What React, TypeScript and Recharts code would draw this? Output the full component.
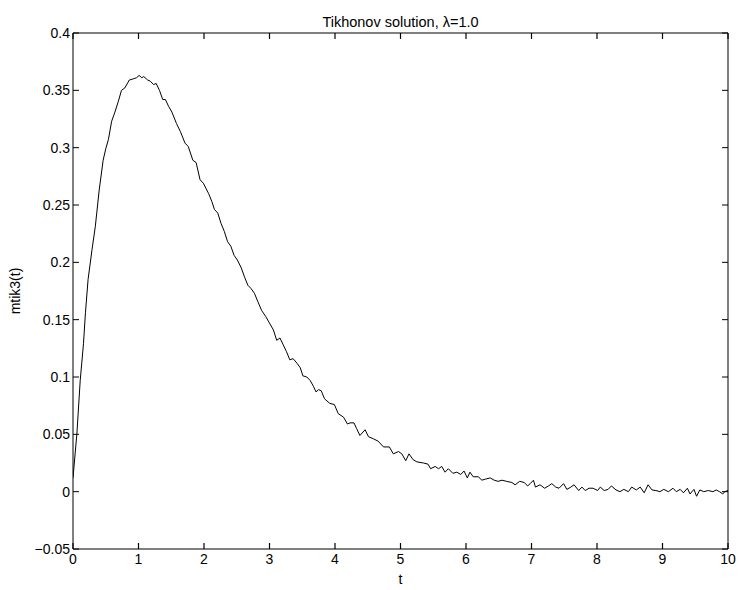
import React from 'react';
import { LineChart, Line, XAxis, YAxis, ReferenceLine } from 'recharts';

// t values
const tValues = [
  0, 0.06, 0.11, 0.16, 0.19, 0.23, 0.29, 0.34, 0.4, 0.46, 0.5, 0.54, 0.59, 0.64, 0.69, 0.74, 0.79, 0.86, 0.92, 0.97,
  1.01, 1.05, 1.08, 1.14, 1.18, 1.23, 1.27, 1.32, 1.37, 1.41, 1.46, 1.51, 1.58, 1.64, 1.71, 1.76, 1.83, 1.88, 1.94, 1.99,
  2.07, 2.12, 2.16, 2.21, 2.26, 2.31, 2.36, 2.41, 2.46, 2.51, 2.57, 2.62, 2.67, 2.72, 2.77, 2.82, 2.88, 2.94, 2.99,
  3.06, 3.11, 3.16, 3.21, 3.26, 3.31, 3.36, 3.42, 3.47, 3.51, 3.57, 3.62, 3.67, 3.71, 3.75, 3.79, 3.84, 3.92, 3.99,
  4.05, 4.13, 4.19, 4.23, 4.29, 4.33, 4.38, 4.46, 4.51, 4.59, 4.66, 4.74, 4.83, 4.89, 4.97,
  5.02, 5.08, 5.13, 5.19, 5.25, 5.35, 5.42, 5.46, 5.53, 5.58, 5.63, 5.68, 5.73, 5.8, 5.86, 5.92, 5.97,
  6.02, 6.06, 6.11, 6.19, 6.24, 6.3, 6.37, 6.43, 6.49, 6.55, 6.62, 6.7, 6.75, 6.82, 6.89, 6.94, 6.98,
  7.03, 7.06, 7.13, 7.2, 7.26, 7.31, 7.37, 7.42, 7.49, 7.54, 7.6, 7.65, 7.72, 7.77, 7.82, 7.88, 7.94,
  8.01, 8.05, 8.11, 8.17, 8.22, 8.29, 8.35, 8.41, 8.48, 8.53, 8.6, 8.66, 8.72, 8.78, 8.84, 8.9, 8.96,
  9.02, 9.09, 9.16, 9.21, 9.27, 9.32, 9.38, 9.42, 9.48, 9.52, 9.57, 9.63, 9.7, 9.77, 9.82, 9.87, 9.92, 9.95, 10,
];

// mtik3(t) values
const mtikValues = [
  0.012, 0.051, 0.097, 0.129, 0.156, 0.185, 0.211, 0.231, 0.263, 0.289, 0.299, 0.307, 0.323, 0.331, 0.34, 0.35, 0.352, 0.359, 0.36, 0.361,
  0.363, 0.361, 0.362, 0.359, 0.358, 0.355, 0.356, 0.35, 0.342, 0.342, 0.336, 0.331, 0.321, 0.314, 0.304, 0.301, 0.289, 0.287, 0.272, 0.269,
  0.26, 0.253, 0.246, 0.243, 0.234, 0.227, 0.218, 0.214, 0.206, 0.202, 0.195, 0.187, 0.18, 0.177, 0.173, 0.166, 0.158, 0.153, 0.148,
  0.141, 0.132, 0.134, 0.128, 0.122, 0.115, 0.116, 0.112, 0.108, 0.101, 0.1, 0.097, 0.092, 0.087, 0.089, 0.088, 0.081, 0.077, 0.076,
  0.068, 0.065, 0.059, 0.06, 0.06, 0.055, 0.049, 0.054, 0.048, 0.046, 0.044, 0.039, 0.039, 0.033, 0.035,
  0.033, 0.027, 0.033, 0.028, 0.026, 0.025, 0.024, 0.02, 0.022, 0.02, 0.022, 0.017, 0.02, 0.016, 0.017, 0.015, 0.018,
  0.012, 0.017, 0.013, 0.013, 0.01, 0.011, 0.012, 0.01, 0.009, 0.01, 0.009, 0.008, 0.006, 0.009, 0.008, 0.005, 0.007,
  0.01, 0.004, 0.006, 0.003, 0.005, 0.007, 0.004, 0.003, 0.007, 0.002, 0.004, 0.006, 0.001, 0.004, 0.001, 0.003, 0.003,
  0.001, 0.004, 0.001, 0.002, 0.005, 0.0015, 0, 0.002, 0, 0.004, 0.0015, 0.004, -0.001, 0.006, 0.0015, 0.001, 0,
  0.002, 0, 0.003, 0, 0.002, -0.001, 0.003, -0.002, 0.002, -0.004, 0.0015, 0, 0.001, 0, 0.0015, 0, -0.002, 0, 0.001,
];

const xTicks = [0, 1, 2, 3, 4, 5, 6, 7, 8, 9, 10];
const yTicks = [-0.05, 0, 0.05, 0.1, 0.15, 0.2, 0.25, 0.3, 0.35, 0.4];

const data = tValues.map((t, i) => ({ t, v: mtikValues[i] }));

const FONT = '"Liberation Sans", Arial, sans-serif';
const font = { fontFamily: FONT, fontSize: 14, fill: '#000' };
const TICK = 6;
const TICK_Y = 0.0052; // ~6px in y units
const GAP_Y = 3;
const GAP_X = 4;
const Y_MIN = -0.05;
const Y_MAX = 0.4;

const fmtY = (v: number) => String(v).replace('-', '\u2212');

// inward tick marks, matlab style
const BottomTick = (p: any) => (
  <g>
    <line x1={p.x} x2={p.x} y1={p.y - GAP_X} y2={p.y - GAP_X - TICK} stroke="#000" strokeWidth={1.2} />
    <text x={p.x} y={p.y} dy={11} textAnchor="middle" fontFamily={FONT} fontSize={14} fill="#000">
      {p.payload.value}
    </text>
  </g>
);

const LeftTick = (p: any) => (
  <g>
    <line x1={p.x + GAP_Y} x2={p.x + GAP_Y + TICK} y1={p.y} y2={p.y} stroke="#000" />
    <text x={p.x} y={p.y} dy={5} textAnchor="end" fontFamily={FONT} fontSize={14} fill="#000">
      {fmtY(p.payload.value)}
    </text>
  </g>
);

const RightTick = (p: any) => <line x1={p.x} x2={p.x - TICK} y1={p.y} y2={p.y} stroke="#000" />;

export default function App() {
  return (
    <div style={{ position: 'absolute', left: 0, top: 0, background: '#fff' }}>
      <LineChart width={739} height={590} data={data} margin={{ top: 32, right: 10, left: 0, bottom: 0 }}>
        <XAxis
          dataKey="t"
          type="number"
          domain={[0, 10]}
          ticks={xTicks}
          allowDataOverflow
          height={41}
          stroke="#000"
          tickLine={false}
          tickSize={0}
          tickMargin={GAP_X}
          tick={BottomTick}
          interval={0}
          label={{ value: 't', position: 'insideBottom', offset: 6, style: font }}
        />
        <XAxis
          xAxisId="top"
          orientation="top"
          dataKey="t"
          type="number"
          domain={[0, 10]}
          ticks={xTicks}
          allowDataOverflow
          height={1}
          stroke="#000"
          tickLine={false}
          tick={false}
          label={{ value: 'Tikhonov solution, \u03bb=1.0', position: 'top', offset: 5, style: { ...font, fontSize: 14.5 } }}
        />
        <YAxis
          type="number"
          domain={[Y_MIN, Y_MAX]}
          ticks={yTicks}
          allowDataOverflow
          width={73}
          stroke="#000"
          tickLine={false}
          tickSize={0}
          tickMargin={GAP_Y}
          tick={LeftTick}
          interval={0}
          label={{ value: 'mtik3(t)', angle: -90, position: 'center', dx: -21, style: { ...font, textAnchor: 'middle' } }}
        />
        <YAxis
          yAxisId="right"
          orientation="right"
          type="number"
          domain={[Y_MIN, Y_MAX]}
          ticks={yTicks}
          allowDataOverflow
          width={1}
          stroke="#000"
          tickLine={false}
          tickSize={0}
          tickMargin={0}
          tick={RightTick}
          interval={0}
        />
        {/* x-Ticks oben nach innen */}
        {xTicks.map((t) => (
          <ReferenceLine
            key={'t' + t}
            segment={[{ x: t, y: Y_MAX }, { x: t, y: Y_MAX - TICK_Y }]}
            stroke="#000"
            strokeWidth={1.2}
            ifOverflow="visible"
          />
        ))}
        <Line type="linear" dataKey="v" stroke="#000" strokeWidth={1} dot={false} isAnimationActive={false} />
      </LineChart>
    </div>
  );
}
